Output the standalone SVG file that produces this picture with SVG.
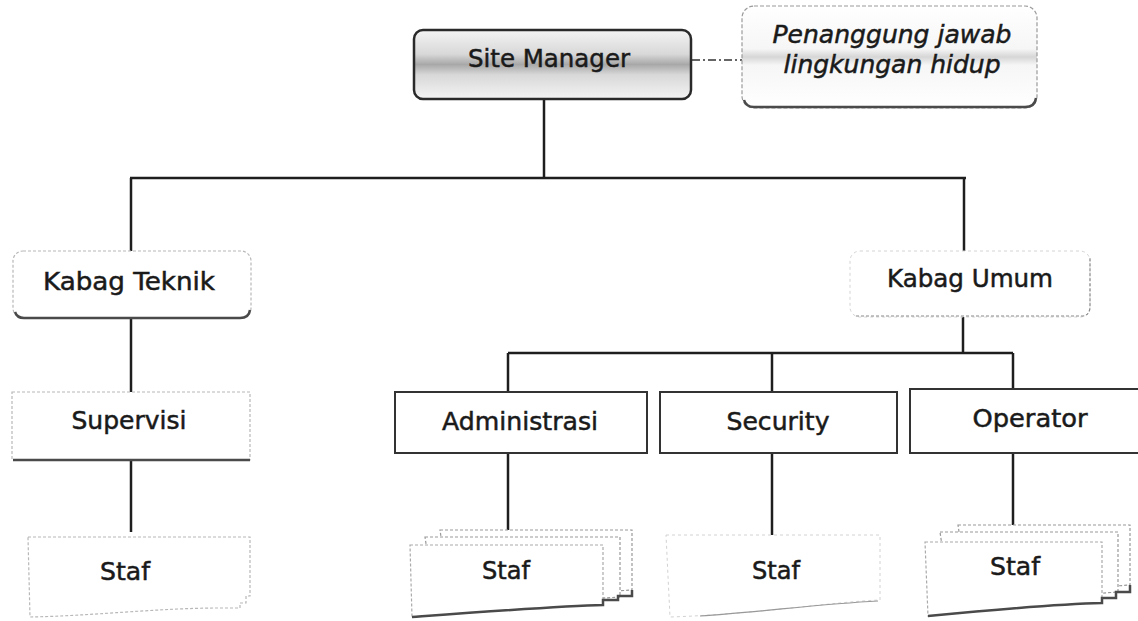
<svg xmlns="http://www.w3.org/2000/svg" width="1138" height="621" viewBox="0 0 1138 621">
<defs>
<linearGradient id="band" x1="0" y1="0" x2="0" y2="1">
<stop offset="0" stop-color="#f4f4f4"/>
<stop offset="0.35" stop-color="#d8d8d8"/>
<stop offset="0.5" stop-color="#a8a8a8"/>
<stop offset="0.65" stop-color="#d8d8d8"/>
<stop offset="1" stop-color="#f4f4f4"/>
</linearGradient>
<linearGradient id="band2" x1="0" y1="0" x2="0" y2="1">
<stop offset="0" stop-color="#ffffff"/>
<stop offset="0.42" stop-color="#f6f6f6"/>
<stop offset="0.5" stop-color="#d6d6d6"/>
<stop offset="0.58" stop-color="#f6f6f6"/>
<stop offset="1" stop-color="#ffffff"/>
</linearGradient>
</defs>
<style>
text{font-family:"DejaVu Sans","Liberation Sans",sans-serif;fill:#1a1a1a;text-anchor:middle;font-size:24px;stroke:#1a1a1a;stroke-width:0.5}
.faint{fill:#fff;stroke:#b8b8b8;stroke-width:1.2;stroke-dasharray:3 2}
.shadow{fill:none;stroke:#4a4a4a;stroke-width:2.5}
.box{fill:#fff;stroke:#333;stroke-width:2}
.conn{stroke:#1e1e1e;stroke-width:2.5;fill:none}
</style>
<rect width="1138" height="621" fill="#fff"/>
<g id="connectors">
<line class="conn" x1="544" y1="99" x2="544" y2="178"/>
<line class="conn" x1="130" y1="178" x2="966" y2="178"/>
<line class="conn" x1="131" y1="178" x2="131" y2="252"/>
<line class="conn" x1="964" y1="178" x2="964" y2="252"/>
<line class="conn" x1="131" y1="318" x2="131" y2="392"/>
<line class="conn" x1="963" y1="316" x2="963" y2="353"/>
<line class="conn" x1="508" y1="353" x2="1013" y2="353"/>
<line class="conn" x1="508" y1="353" x2="508" y2="392"/>
<line class="conn" x1="772" y1="353" x2="772" y2="392"/>
<line class="conn" x1="1013" y1="353" x2="1013" y2="389"/>
<line class="conn" x1="131" y1="460" x2="131" y2="532"/>
<line class="conn" x1="508" y1="453" x2="508" y2="530"/>
<line class="conn" x1="772" y1="453" x2="772" y2="535"/>
<line class="conn" x1="1013" y1="453" x2="1013" y2="525"/>
<line x1="692" y1="60" x2="742" y2="60" stroke="#333" stroke-width="1.5" stroke-dasharray="8 3 2 3"/>
</g>
<g id="site-manager">
<rect x="414" y="30" width="277" height="69" rx="9" fill="url(#band)" stroke="#2a2a2a" stroke-width="2.5"/>
<text x="549" y="67" textLength="162" lengthAdjust="spacingAndGlyphs">Site Manager</text>
</g>
<g id="penanggung-jawab">
<rect x="742" y="6" width="295" height="102" rx="12" fill="url(#band2)" stroke="#9a9a9a" stroke-width="1.2" stroke-dasharray="4 2"/>
<path d="M744 100 Q746 107 754 107 H1025 Q1035 107 1036 98" class="shadow"/>
<text x="892" y="43" font-style="italic" textLength="239" lengthAdjust="spacingAndGlyphs">Penanggung jawab</text>
<text x="892" y="73" font-style="italic" textLength="217" lengthAdjust="spacingAndGlyphs">lingkungan hidup</text>
</g>
<g id="kabag-teknik">
<rect x="13" y="251" width="238" height="67" rx="10" class="faint"/>
<path d="M15 312 Q17 318 24 318 H240 Q249 318 250 310" class="shadow"/>
<text x="129" y="290" textLength="172" lengthAdjust="spacingAndGlyphs">Kabag Teknik</text>
</g>
<g id="kabag-umum">
<rect x="850" y="251" width="240" height="66" rx="10" fill="#fff" stroke="#d4d4d4" stroke-width="1" stroke-dasharray="3 3"/>
<path d="M856 316 H1082 Q1089 316 1090 308 V258" fill="none" stroke="#8a8a8a" stroke-width="1.2" stroke-dasharray="3 2"/>
<text x="970" y="287" textLength="166" lengthAdjust="spacingAndGlyphs">Kabag Umum</text>
</g>
<g id="supervisi">
<rect x="12" y="392" width="238" height="68" class="faint"/>
<line x1="13" y1="460" x2="250" y2="460" class="shadow"/>
<text x="129" y="429" textLength="115" lengthAdjust="spacingAndGlyphs">Supervisi</text>
</g>
<g id="administrasi">
<rect x="395" y="392" width="252" height="61" class="box"/>
<text x="520" y="430" textLength="156" lengthAdjust="spacingAndGlyphs">Administrasi</text>
</g>
<g id="security">
<rect x="660" y="392" width="237" height="61" class="box"/>
<text x="778" y="430" textLength="103" lengthAdjust="spacingAndGlyphs">Security</text>
</g>
<g id="operator">
<rect x="910" y="389" width="234" height="64" class="box"/>
<text x="1030" y="427" textLength="115" lengthAdjust="spacingAndGlyphs">Operator</text>
</g>
<g id="staf-teknik">
<path d="M28 537 H250 V596 H246 V603 H240 V608 H218 C160 608 90 616 30 617 Z" class="faint"/>
<text x="125" y="580" textLength="50" lengthAdjust="spacingAndGlyphs">Staf</text>
</g>
<g id="staf-administrasi">
<path d="M440 530 H632 V590 C600 592 560 594 450 596 Z" fill="#fff" stroke="#999" stroke-width="1.2" stroke-dasharray="3 2"/>
<path d="M425 537 H620 V597 C590 599 550 601 435 603 Z" fill="#fff" stroke="#999" stroke-width="1.2" stroke-dasharray="3 2"/>
<path d="M410 545 H603 V605 C560 606 480 612 412 617 Z" fill="#fff" stroke="#aaa" stroke-width="1.2" stroke-dasharray="3 2"/>
<path d="M412 617 C480 612 560 606 603 605 V600 H618 V596 H632 V590" class="shadow"/>
<text x="506" y="579" textLength="48" lengthAdjust="spacingAndGlyphs">Staf</text>
</g>
<g id="staf-security">
<path d="M666 535 H880 V600 C830 602 760 614 670 617 Z" fill="#fff" stroke="#d2d2d2" stroke-width="1" stroke-dasharray="3 3"/>
<path d="M700 616 C760 612 820 604 878 601" fill="none" stroke="#999" stroke-width="1.2"/>
<text x="776" y="579" textLength="48" lengthAdjust="spacingAndGlyphs">Staf</text>
</g>
<g id="staf-operator">
<path d="M958 525 H1130 V585 C1100 587 1060 590 968 592 Z" fill="#fff" stroke="#999" stroke-width="1.2" stroke-dasharray="3 2"/>
<path d="M940 532 H1118 V592 C1090 594 1050 597 950 599 Z" fill="#fff" stroke="#999" stroke-width="1.2" stroke-dasharray="3 2"/>
<path d="M925 542 H1102 V603 C1060 604 990 610 928 616 Z" fill="#fff" stroke="#aaa" stroke-width="1.2" stroke-dasharray="3 2"/>
<path d="M928 616 C990 610 1060 604 1102 603 V598 H1116 V592 H1130 V585" class="shadow"/>
<text x="1015" y="575" textLength="50" lengthAdjust="spacingAndGlyphs">Staf</text>
</g>
</svg>
